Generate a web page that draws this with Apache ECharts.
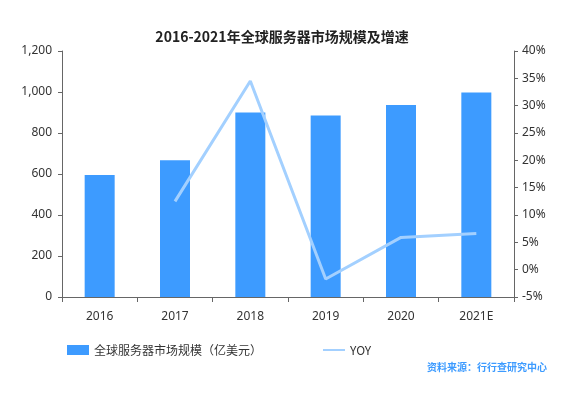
<!DOCTYPE html>
<html lang="zh">
<head>
    <meta charset="UTF-8">
    <title>2016-2021年全球服务器市场规模及增速</title>
    <style>
        html, body {
            margin: 0;
            padding: 0;
            width: 100%;
            height: 100%;
            background: #fff;
            overflow: hidden;
        }
        #chart {
            width: 564px;
            height: 399px;
        }
    </style>
</head>
<body>
<div id="chart"></div>
<script src="https://cdn.jsdelivr.net/npm/echarts@6/dist/echarts.min.js"></script>
<script>
    // 数据
    var years = ['2016', '2017', '2018', '2019', '2020', '2021E'];
    var marketSize = [595, 667, 900, 885, 937, 998];
    var yoy = [null, 12.5, 34.5, -1.7, 5.9, 6.6];

    var axisColor = '#666';
    var labelStyle = { color: '#333', fontSize: 12, fontFamily: 'Noto Sans' };

    var chart = echarts.init(document.getElementById('chart'));
    chart.setOption({
        animation: false,
        backgroundColor: '#fff',
        title: {
            text: '2016-2021年全球服务器市场规模及增速',
            left: 'center',
            top: 25,
            textStyle: {
                fontSize: 14,
                fontWeight: 'bold',
                color: '#222',
                fontFamily: 'Noto Sans CJK SC'
            }
        },
        grid: { left: 62, right: 50, top: 51, bottom: 102 },
        legend: {
            left: 62,
            top: 339,
            itemGap: 60,
            itemWidth: 22,
            itemHeight: 10,
            textStyle: { fontSize: 12, color: '#333', fontFamily: 'Noto Sans CJK SC' },
            data: [
                { name: '全球服务器市场规模（亿美元）', icon: 'rect' },
                { name: 'YOY', itemStyle: { opacity: 0 } }
            ]
        },
        graphic: [{
            type: 'text',
            right: 17,
            top: 362,
            style: {
                text: '资料来源：行行查研究中心',
                fill: '#3d9bff',
                font: 'bold 10px "Noto Sans CJK SC"'
            }
        }],
        xAxis: {
            type: 'category',
            data: years,
            boundaryGap: true,
            axisLine: { lineStyle: { color: axisColor } },
            axisTick: { show: true, length: 5, lineStyle: { color: axisColor } },
            axisLabel: Object.assign({ margin: 14 }, labelStyle)
        },
        yAxis: [{
            type: 'value',
            min: 0,
            max: 1200,
            interval: 200,
            axisLine: { show: true, lineStyle: { color: axisColor } },
            axisTick: { show: true, length: 4, lineStyle: { color: axisColor } },
            splitLine: { show: false },
            axisLabel: Object.assign({
                margin: 10,
                formatter: function (v) { return v.toLocaleString('en-US'); }
            }, labelStyle)
        }, {
            type: 'value',
            min: -5,
            max: 40,
            interval: 5,
            position: 'right',
            axisLine: { show: true, lineStyle: { color: axisColor } },
            axisTick: { show: true, length: 4, lineStyle: { color: axisColor } },
            splitLine: { show: false },
            axisLabel: Object.assign({ margin: 8, formatter: '{value}%' }, labelStyle)
        }],
        series: [{
            name: '全球服务器市场规模（亿美元）',
            type: 'bar',
            data: marketSize,
            barWidth: 30,
            itemStyle: { color: '#3d9bff' }
        }, {
            name: 'YOY',
            type: 'line',
            yAxisIndex: 1,
            data: yoy,
            symbol: 'none',
            lineStyle: { color: '#a3d0ff', width: 3 },
            itemStyle: { color: '#a3d0ff' }
        }]
    });
</script>
</body>
</html>
